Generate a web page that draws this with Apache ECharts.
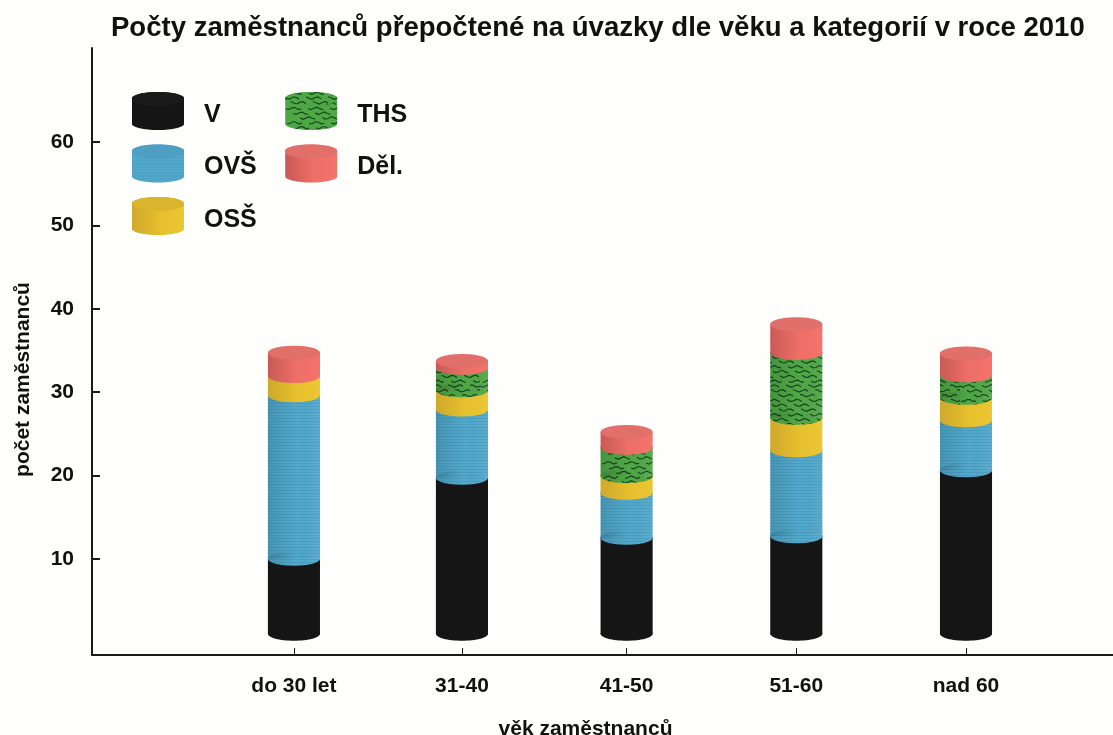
<!DOCTYPE html>
<html>
<head>
<meta charset="utf-8">
<title>Počty zaměstnanců</title>
<script src="https://cdn.jsdelivr.net/npm/echarts@6/dist/echarts.min.js"></script>
<style>
  html, body { margin: 0; padding: 0; background: #fefefc; }
  #chart { width: 1113px; height: 735px; }
</style>
</head>
<body>
<div id="chart"></div>
<script>
// data
var categories = ['do 30 let', '31-40', '41-50', '51-60', 'nad 60']
var slots = [1, 2, 2.98, 3.99, 5]
var yTicks = [10, 20, 30, 40, 50, 60]
var valuesV = [9.0, 18.7, 11.5, 11.7, 19.6]
var valuesOVS = [19.6, 8.2, 5.4, 10.3, 6.0]
var valuesOSS = [2.3, 2.3, 2.0, 3.9, 2.7]
var valuesTHS = [0, 2.7, 3.4, 7.8, 2.7]
var valuesDel = [2.8, 0.8, 1.9, 3.4, 2.6]
var stackStart = 0.2

var fontFamily = '"Liberation Sans", Arial, sans-serif'
var barWidth = 0.31   // in x axis units
var capHeight = 0.84  // half height of the ellipse, in y axis units

function hGradient (left, mid, right) {
  return {
    type: 'linear', x: 0, y: 0, x2: 1, y2: 0,
    colorStops: [{ offset: 0, color: left }, { offset: 0.55, color: mid }, { offset: 1, color: right }]
  }
}

// thin horizontal lines on the blue
function blueTexture () {
  var c = document.createElement('canvas')
  c.width = 64
  c.height = 12
  var ctx = c.getContext('2d')
  ctx.fillStyle = '#52a9cc'
  ctx.fillRect(0, 0, 64, 12)
  ctx.strokeStyle = 'rgba(40,110,145,0.2)'
  ctx.lineWidth = 1
  for (var y = 1.5; y < 12; y += 3) {
    ctx.beginPath()
    ctx.moveTo(0, y)
    ctx.lineTo(64, y)
    ctx.stroke()
  }
  return c
}

// dark broken streaks on the green
function greenTexture () {
  var c = document.createElement('canvas')
  c.width = 120
  c.height = 48
  var ctx = c.getContext('2d')
  ctx.fillStyle = '#4fa846'
  ctx.fillRect(0, 0, 120, 48)
  ctx.strokeStyle = 'rgba(15,50,25,0.85)'
  ctx.lineWidth = 1.2
  for (var row = 0; row < 10; row++) {
    var y0 = row * 4.8 + 2
    for (var start = (row * 7) % 20; start < 120; start += 22) {
      ctx.beginPath()
      for (var x = start; x <= start + 15; x += 3) {
        var y = y0 + 1.3 * Math.sin(x * 0.55 + row * 2.1)
        if (x === start) ctx.moveTo(x, y)
        else ctx.lineTo(x, y)
      }
      ctx.stroke()
    }
  }
  return c
}

var blueFill = { image: blueTexture(), repeat: 'repeat' }
var greenFill = { image: greenTexture(), repeat: 'repeat' }
var shade = hGradient('rgba(0,0,0,0.12)', 'rgba(0,0,0,0)', 'rgba(255,255,255,0.06)')

var layers = [
  { name: 'V', values: valuesV, side: '#151515', top: '#1a1a1a', shaded: false },
  { name: 'OVŠ', values: valuesOVS, side: blueFill, top: '#4f9fc3', shaded: true },
  { name: 'OSŠ', values: valuesOSS, side: hGradient('#cfa92a', '#e5bf2d', '#ecc733'), top: '#d9b52c', shaded: false },
  { name: 'THS', values: valuesTHS, side: greenFill, top: greenFill, shaded: true },
  { name: 'Děl.', values: valuesDel, side: hGradient('#c95a55', '#ee6f68', '#f4736b'), top: '#e2706a', shaded: false }
]

function cylinder (layer) {
  return function (params, api) {
    var from = api.coord([api.value(0), api.value(1)])
    var to = api.coord([api.value(0), api.value(2)])
    if (api.value(2) <= api.value(1)) return null
    var size = api.size([barWidth, capHeight])
    var rx = size[0] / 2
    var ry = size[1]
    var x = from[0]
    var yBottom = from[1] - ry
    var yTop = to[1] - ry
    var children = [
      { type: 'ellipse', shape: { cx: x, cy: yBottom, rx: rx, ry: ry }, style: { fill: layer.side } },
      { type: 'rect', shape: { x: x - rx, y: yTop, width: rx * 2, height: yBottom - yTop }, style: { fill: layer.side } }
    ]
    if (layer.shaded) {
      children.push({ type: 'ellipse', shape: { cx: x, cy: yBottom, rx: rx, ry: ry }, style: { fill: shade } })
      children.push({ type: 'rect', shape: { x: x - rx, y: yTop, width: rx * 2, height: yBottom - yTop }, style: { fill: shade } })
    }
    children.push({ type: 'ellipse', shape: { cx: x, cy: yTop, rx: rx, ry: ry }, style: { fill: layer.top } })
    return { type: 'group', children: children }
  }
}

var running = categories.map(function () { return stackStart })
var series = layers.map(function (layer) {
  var data = layer.values.map(function (v, i) {
    var start = running[i]
    running[i] = start + v
    return [slots[i], start, running[i]]
  })
  return {
    name: layer.name,
    type: 'custom',
    renderItem: cylinder(layer),
    itemStyle: { color: layer.side },
    clip: false,
    data: data
  }
})

var cylinderIcon = 'path://M0 6C0 2.7 11.6 0 26 0S52 2.7 52 6V32C52 35.3 40.4 38 26 38S0 35.3 0 32Z'

// top faces for the legend swatches
var legendSlots = [[132, 92], [132, 144.5], [132, 197], [285, 92], [285, 144.5]]
var legendTops = layers.map(function (layer, i) {
  return {
    type: 'ellipse',
    shape: { cx: legendSlots[i][0] + 26, cy: legendSlots[i][1] + 7, rx: 26, ry: 7 },
    style: { fill: layer.top },
    z: 10
  }
})

var option = {
  backgroundColor: '#fefefc',
  animation: false,
  textStyle: { fontFamily: fontFamily },
  title: {
    text: 'Počty zaměstnanců přepočtené na úvazky dle věku a kategorií v roce 2010',
    left: 106,
    top: 9,
    textStyle: { fontFamily: fontFamily, fontSize: 27.55, fontWeight: 'bold', color: '#111' }
  },
  legend: {
    left: 132,
    top: 92,
    padding: 0,
    orient: 'vertical',
    height: 150,
    itemWidth: 52,
    itemHeight: 38,
    itemGap: 14.5,
    icon: cylinderIcon,
    selectedMode: false,
    data: layers.map(function (l) { return l.name }),
    // the two nbsp widen the first column so the second one starts further right
    formatter: function (name) { return '{a|' + name + '\u00a0\u00a0}' },
    textStyle: {
      rich: {
        a: {
          fontFamily: fontFamily,
          fontSize: 25,
          fontWeight: 'bold',
          color: '#111',
          padding: [8, 0, 0, 15]
        }
      }
    }
  },
  grid: { left: 92, right: 0, top: 48, bottom: 80, outerBoundsMode: 'none' },
  xAxis: {
    type: 'value',
    min: -0.202,
    max: 5.875,
    name: 'věk zaměstnanců',
    nameLocation: 'middle',
    nameGap: 64,
    nameTextStyle: { fontFamily: fontFamily, fontSize: 21, fontWeight: 'bold', color: '#111', padding: [0, 34, 0, 0] },
    splitLine: { show: false },
    axisLine: { show: true, onZero: false, lineStyle: { color: '#1a1a1a', width: 2 } },
    axisTick: { show: true, inside: true, length: 7, customValues: slots, lineStyle: { color: '#1a1a1a', width: 1 } },
    axisLabel: {
      customValues: slots,
      margin: 21,
      fontFamily: fontFamily,
      fontSize: 21,
      fontWeight: 'bold',
      color: '#111',
      formatter: function (v) { return categories[slots.indexOf(v)] }
    }
  },
  yAxis: {
    type: 'value',
    min: -1.51,
    max: 71.27,
    name: 'počet zaměstnanců',
    nameLocation: 'middle',
    nameGap: 58,
    nameTextStyle: { fontFamily: fontFamily, fontSize: 21, fontWeight: 'bold', color: '#111', padding: [0, 56, 0, 0] },
    splitLine: { show: false },
    axisLine: { show: true, onZero: false, lineStyle: { color: '#1a1a1a', width: 2 } },
    axisTick: { show: true, inside: true, length: 8, customValues: yTicks, lineStyle: { color: '#1a1a1a', width: 2 } },
    axisLabel: {
      customValues: yTicks,
      margin: 18,
      fontFamily: fontFamily,
      fontSize: 21,
      fontWeight: 'bold',
      color: '#111'
    }
  },
  graphic: legendTops,
  series: series
}

var myChart = echarts.init(document.getElementById('chart'))
myChart.setOption(option)
</script>
</body>
</html>
